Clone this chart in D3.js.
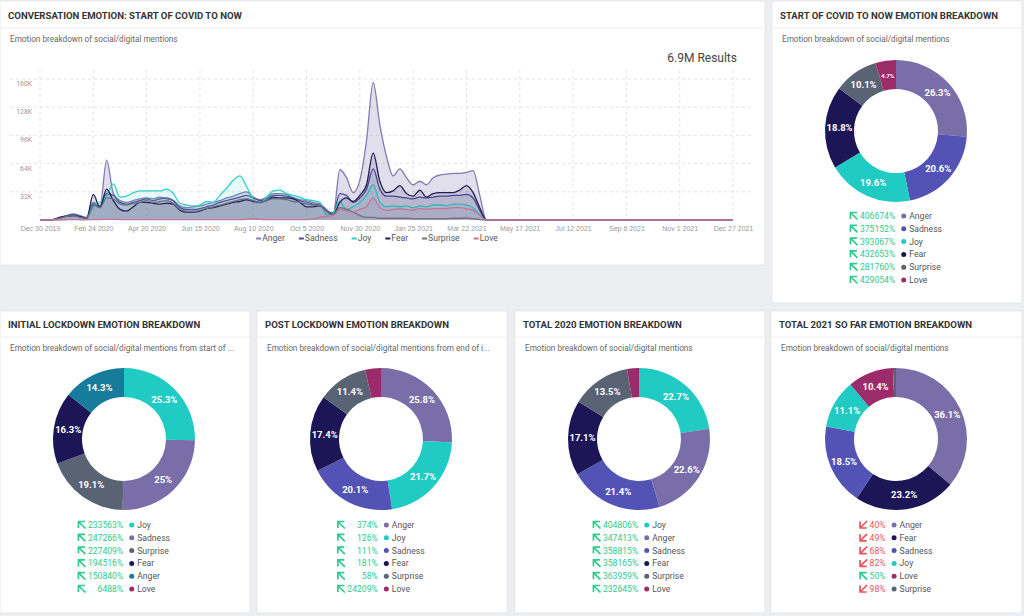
<!DOCTYPE html>
<html>
<head>
<meta charset="utf-8">
<title>Emotion dashboard</title>
<script src="https://cdn.jsdelivr.net/npm/d3@7"></script>
<style>
  body { margin: 0; background: #eceef1; }
  svg { font-family: Roboto, 'Noto Sans', sans-serif; display: block; }
  .panel { fill: #fff; stroke: #e1e3e7; stroke-width: 0.8; }
  .sep { stroke: #eceef0; stroke-width: 1; }
  .title { font-size: 9.6px; font-weight: 700; fill: #333; }
  .subtitle { font-size: 8.2px; fill: #666; }
  .tick text { font-size: 7px; fill: #999; }
  .grid { stroke: #dcdcdc; stroke-dasharray: 3,3; stroke-width: 0.8; }
  .leg { font-size: 8.6px; fill: #555; }
  .slice-label { fill: #fff; font-weight: 700; text-anchor: middle; }
</style>
</head>
<body>
<svg id="dash" width="1024" height="616"></svg>
<script>
// ---- line chart data (weekly, in thousands of mentions) ----
var weekStart = "2019-12-30";
var tailDate = "2021-12-27";
var xTickCount = 14; // every 8 weeks from Dec 30 2019
var yTicks = [32, 64, 96, 128, 160];

var lineSeries = ["Anger", "Sadness", "Joy", "Fear", "Surprise", "Love"];
var anger = [0,0,0.5,3,5,7,5,3,20,15, 68,30,22,20,22,24,25,24,26,24, 22,16,14,15,16,18,20,22,25,27, 30,32,26,23,26,30,30,29,25,23, 22,20,18,12,6,57,48,31,45,90, 156,108,72,50,58,48,40,44,40,48, 51,52,53,53,54,56,28,0];
var sadness = [0,0,0.5,3,5,6,4,2,18,16, 30,28,20,18,20,22,24,22,24,25, 22,14,12,12,13,15,17,20,22,24, 26,28,25,22,24,28,28,27,25,22, 20,18,17,10,8,30,28,20,25,35, 58,35,27,27,26,25,24,26,25,26, 27,27,28,28,29,25,11,0];
var joy = [0,0,0.5,2,4,5,4,2,15,20, 28,41,26,27,31,33,33,33,33,35, 30,19,17,16,17,21,20,28,36,45, 50,38,24,19,26,33,34,30,28,26, 23,22,20,6,8,21,12,15,20,28, 40,20,15,16,15,16,14,16,15,17, 17,16,18,18,17,14,6,0];
var fear = [0,0,0.5,3,4,5,4,2,29,14, 35,22,12,10,15,20,20,19,18,19, 18,11,9,9,10,13,14,16,18,20, 21,23,21,20,22,26,25,25,24,20, 15,15,16,10,6,20,25,21,28,40, 76,44,31,33,39,30,27,34,26,30, 31,31,31,34,39,31,14,0];
var surprise = [0,0,0.5,2,4,5,3,2,17,14, 25,24,18,17,19,20,22,20,21,22, 19,12,10,10,11,13,15,17,19,21, 23,24,22,20,22,24,24,23,21,20, 18,17,16,10,6,14,12,9,5,3, 3,2,2,2,2,2,1.5,1.5,1.5,1.5, 1.5,1.5,2,2,2.5,1.5,0.5,0];
var love = [0,0,0,0,0.3,0.5,0.3,0.2,0.5,0.5, 0.8,0.8,0.5,0.5,0.5,0.5,0.5,0.5,0.5,0.5, 0.5,0.4,0.4,0.4,0.4,0.4,0.5,0.5,0.5,0.5, 0.5,0.8,1.5,0.8,0.5,0.5,0.5,0.5,0.5,0.5, 0.5,1,3,4,5,12,10,9,12,15, 25,14,11,12,13,12,11,13,12,13, 13,13,14,14,13,11,5,0];
var lineValues = [anger, sadness, joy, fear, surprise, love];
var lineColors = ["#8479b1", "#4d4b98", "#2fcfc5", "#211c54", "#6a7080", "#c7739f"];

// ---- donut data ----
var emotionColors = { Anger: "#7a6ea9", Sadness: "#5353b6", Joy: "#1fcbc2", Fear: "#1c1657", Surprise: "#596373", Love: "#9c2b6a" };

var covidLabels = ["Anger", "Sadness", "Joy", "Fear", "Surprise", "Love"];
var covidShare = [26.3, 20.6, 19.6, 18.8, 10.1, 4.7];
var covidChange = ["406674%", "375152%", "393067%", "432653%", "281760%", "429054%"];

var initialLabels = ["Joy", "Sadness", "Surprise", "Fear", "Anger", "Love"];
var initialShare = [25.3, 25, 19.1, 16.3, 14.3, 0];
var initialChange = ["233563%", "247266%", "227409%", "194516%", "150840%", "6488%"];

var postLabels = ["Anger", "Joy", "Sadness", "Fear", "Surprise", "Love"];
var postShare = [25.8, 21.7, 20.1, 17.4, 11.4, 3.6];
var postChange = ["374%", "126%", "111%", "181%", "58%", "24209%"];

var y2020Labels = ["Joy", "Anger", "Sadness", "Fear", "Surprise", "Love"];
var y2020Share = [22.7, 22.6, 21.4, 17.1, 13.5, 2.7];
var y2020Change = ["404806%", "347413%", "358815%", "358165%", "363959%", "232645%"];

var y2021Labels = ["Anger", "Fear", "Sadness", "Joy", "Love", "Surprise"];
var y2021Share = [36.1, 23.2, 18.5, 11.1, 10.4, 0.7];
var y2021Change = ["40%", "49%", "68%", "82%", "50%", "98%"];
var y2021Up = [false, false, false, false, true, false];

var svg = d3.select("#dash");

// ---- panels ----
function panel(x, y, w, h, sepY, title, subtitle) {
    var g = svg.append("g");
    g.append("rect").attr("class", "panel").attr("x", x).attr("y", y).attr("width", w).attr("height", h);
    g.append("line").attr("class", "sep").attr("x1", x + 1).attr("x2", x + w - 1).attr("y1", sepY).attr("y2", sepY);
    g.append("text").attr("class", "title").attr("x", x + 8).attr("y", sepY - 9.5).text(title);
    g.append("text").attr("class", "subtitle").attr("x", x + 10).attr("y", sepY + 14).text(subtitle);
    return g;
}

var lineP = panel(0, 1, 765, 264, 28, "CONVERSATION EMOTION: START OF COVID TO NOW", "Emotion breakdown of social/digital mentions");
lineP.append("text").attr("x", 737).attr("y", 62).attr("text-anchor", "end")
    .style("font-size", "12px").style("fill", "#444").text("6.9M Results");

// ---- line chart ----
var parse = d3.timeParse("%Y-%m-%d");
var start = parse(weekStart), end = parse(tailDate);
var x = d3.scaleTime().domain([start, end]).range([40, 733]);
var y = d3.scaleLinear().domain([0, 160]).range([220, 79]);

var tickDates = d3.range(xTickCount).map(function (k) { return d3.timeDay.offset(start, 56 * k); });

// grid
lineP.append("g").selectAll("line").data(yTicks).join("line")
    .attr("class", "grid").attr("x1", 10).attr("x2", 752)
    .attr("y1", function (d) { return y(d); }).attr("y2", function (d) { return y(d); });
lineP.append("g").selectAll("line").data(tickDates).join("line")
    .attr("class", "grid").attr("y1", 70).attr("y2", 220)
    .attr("x1", function (d) { return x(d); }).attr("x2", function (d) { return x(d); });

// y labels sit just under their gridline
lineP.append("g").selectAll("text").data(yTicks).join("text")
    .attr("x", 32).attr("y", function (d) { return y(d) + 7; })
    .attr("text-anchor", "end").style("font-size", "6.8px").style("fill", "#999")
    .text(function (d) { return d + "K"; });

var xAxis = d3.axisBottom(x).tickValues(tickDates).tickFormat(d3.timeFormat("%b %-d %Y")).tickSize(0).tickPadding(6);
lineP.append("g").attr("transform", "translate(0,220)").call(xAxis)
    .call(function (g) { g.select(".domain").remove(); });

var area = d3.area().curve(d3.curveMonotoneX)
    .x(function (d) { return x(d.date); }).y0(y(0)).y1(function (d) { return y(d.v); });
var line = d3.line().curve(d3.curveMonotoneX)
    .x(function (d) { return x(d.date); }).y(function (d) { return y(d.v); });

lineSeries.forEach(function (name, s) {
    var pts = lineValues[s].map(function (v, i) { return { date: d3.timeDay.offset(start, 7 * i), v: v }; });
    pts.push({ date: end, v: 0 });
    lineP.append("path").datum(pts).attr("d", area)
        .attr("fill", lineColors[s]).attr("fill-opacity", s === 0 ? 0.24 : 0.12);
    lineP.append("path").datum(pts).attr("d", line)
        .attr("fill", "none").attr("stroke", lineColors[s]).attr("stroke-width", 1.3);
});

// line legend, centred under the plot
var lg = lineP.append("g");
var lx = 0;
lineSeries.forEach(function (name, s) {
    var it = lg.append("g");
    it.append("rect").attr("x", 0).attr("y", -3.5).attr("width", 5).attr("height", 2).attr("fill", lineColors[s]);
    var t = it.append("text").attr("class", "leg").attr("x", 6).attr("y", 0).text(name);
    var w = 6 + t.node().getComputedTextLength();
    it.attr("transform", "translate(" + lx + ",0)");
    lx += w + 14;
});
lg.attr("transform", "translate(" + (377 - (lx - 14) / 2) + ",241)");

// ---- donuts ----
function arrowIcon(g, up, color) {
    var p = up ? "M0.5,7 L0.5,0.5 L7,0.5 M0.5,0.5 L7.5,7.5" : "M0.5,0.5 L0.5,7 L7,7 M0.5,7 L7.5,0";
    g.append("path").attr("d", p).attr("fill", "none").attr("stroke", color)
        .attr("stroke-width", 1.7);
}

function donut(cx, cy, labels, shares, changes, ups, colorOverride, legendTop) {
    var g = svg.append("g");
    var color = function (l) { return (colorOverride && colorOverride[l]) || emotionColors[l]; };
    var items = labels.map(function (l, i) { return { label: l, v: shares[i] }; });
    var pie = d3.pie().sort(null).value(function (d) { return d.v; });
    var arc = d3.arc().innerRadius(42).outerRadius(71);
    var arcs = pie(items);
    var dg = g.append("g").attr("transform", "translate(" + cx + "," + cy + ")");
    dg.selectAll("path").data(arcs).join("path").attr("d", arc)
        .attr("fill", function (d) { return color(d.data.label); });
    dg.selectAll("text").data(arcs.filter(function (d) { return d.data.v >= 4; })).join("text")
        .attr("class", "slice-label")
        .attr("transform", function (d) { var c = arc.centroid(d); return "translate(" + c[0] + "," + (c[1] + 3.3) + ")"; })
        .style("font-size", function (d) { return d.data.v < 6 ? "6.2px" : "9.5px"; })
        .text(function (d) { return d.data.v + "%"; });

    // legend
    var lgd = g.append("g");
    var measure = function (s) {
        var t = lgd.append("text").attr("class", "leg").text(s);
        var w = t.node().getComputedTextLength(); t.remove(); return w;
    };
    var pctW = d3.max(changes, measure), labW = d3.max(labels, measure);
    var total = 8 + 2 + pctW + 6 + 5 + 3 + labW;
    var x0 = cx - total / 2;
    labels.forEach(function (l, i) {
        var up = ups ? ups[i] : true;
        var c = up ? "#2dcb8e" : "#e8535e";
        var ry = legendTop + i * 12.8;
        var ag = lgd.append("g").attr("transform", "translate(" + x0 + "," + (ry - 4) + ")");
        arrowIcon(ag, up, c);
        lgd.append("text").attr("class", "leg").attr("x", x0 + 10 + pctW).attr("y", ry + 3)
            .attr("text-anchor", "end").style("fill", c).text(changes[i]);
        lgd.append("circle").attr("cx", x0 + 10 + pctW + 8.5).attr("cy", ry).attr("r", 2.5).attr("fill", color(l));
        lgd.append("text").attr("class", "leg").attr("x", x0 + 10 + pctW + 14).attr("y", ry + 3).text(l);
    });
}

panel(772, 1, 250, 302, 28, "START OF COVID TO NOW EMOTION BREAKDOWN", "Emotion breakdown of social/digital mentions");
donut(896, 131, covidLabels, covidShare, covidChange, null, null, 216);

panel(0, 311, 250, 302, 337, "INITIAL LOCKDOWN EMOTION BREAKDOWN", "Emotion breakdown of social/digital mentions from start of ...");
donut(124, 439, initialLabels, initialShare, initialChange, null, { Sadness: "#7a6ea9", Anger: "#177b9b" }, 525);

panel(257, 311, 250, 302, 337, "POST LOCKDOWN EMOTION BREAKDOWN", "Emotion breakdown of social/digital mentions from end of i...");
donut(381, 439, postLabels, postShare, postChange, null, null, 525);

panel(515, 311, 250, 302, 337, "TOTAL 2020 EMOTION BREAKDOWN", "Emotion breakdown of social/digital mentions");
donut(639, 439, y2020Labels, y2020Share, y2020Change, null, null, 525);

panel(771, 311, 251, 302, 337, "TOTAL 2021 SO FAR EMOTION BREAKDOWN", "Emotion breakdown of social/digital mentions");
donut(896, 439, y2021Labels, y2021Share, y2021Change, y2021Up, null, 525);
</script>
</body>
</html>
